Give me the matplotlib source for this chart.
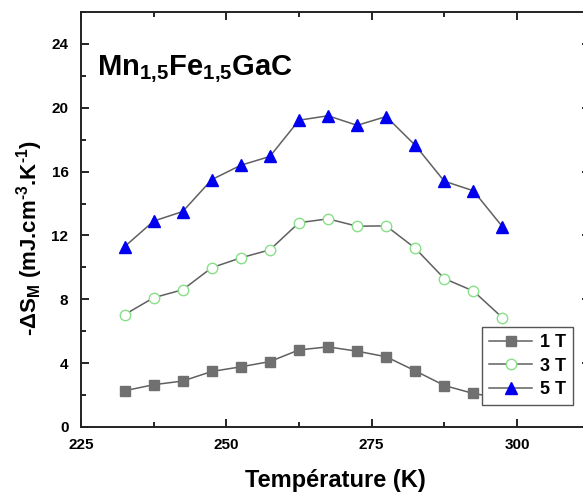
import matplotlib
matplotlib.use("Agg")
import matplotlib.pyplot as plt
from matplotlib.ticker import MultipleLocator

plt.rcParams['font.family'] = ['Liberation Sans', 'DejaVu Sans']
plt.rcParams['mathtext.fontset'] = 'custom'
plt.rcParams['mathtext.rm'] = 'Liberation Sans:bold'
plt.rcParams['mathtext.bf'] = 'Liberation Sans:bold'
plt.rcParams['mathtext.it'] = 'Liberation Sans:bold'

temperature = [232.5, 237.5, 242.5, 247.5, 252.5, 257.5, 262.5, 267.5,
               272.5, 277.5, 282.5, 287.5, 292.5, 297.5]
ds_1T = [2.27, 2.65, 2.88, 3.48, 3.77, 4.1, 4.83, 5.02, 4.75, 4.4, 3.52, 2.6, 2.1, 1.8]
ds_3T = [7.04, 8.1, 8.6, 9.98, 10.6, 11.1, 12.8, 13.04, 12.58, 12.6, 11.2, 9.3, 8.52, 6.85]
ds_5T = [11.3, 12.9, 13.5, 15.5, 16.4, 16.95, 19.22, 19.5, 18.9, 19.45, 17.65, 15.4, 14.8, 12.55]
labels = ['1 T', '3 T', '5 T']
x_ticks = [225, 250, 275, 300]
y_ticks = [0, 4, 8, 12, 16, 20, 24]

fig = plt.figure(figsize=(5.83, 4.92), dpi=100)
ax = fig.add_axes([81/583, 65/492, 508.6/583, 415/492])

line_col = '#606060'
ax.plot(temperature, ds_1T, '-', color=line_col, lw=1.1, marker='s', ms=6.5,
        mfc='#707070', mec='#707070', label=labels[0], zorder=3)
ax.plot(temperature, ds_3T, '-', color=line_col, lw=1.1, marker='o', ms=7.5,
        mfc='white', mec='#88e088', mew=1.0, label=labels[1], zorder=3)
ax.plot(temperature, ds_5T, '-', color=line_col, lw=1.1, marker='^', ms=8.5,
        mfc='#0000ee', mec='#0000ee', label=labels[2], zorder=3)

ax.set_xlim(225, 312.5)
ax.set_ylim(0, 26)
ax.set_xticks(x_ticks)
ax.set_yticks(y_ticks)
ax.xaxis.set_minor_locator(MultipleLocator(12.5))
ax.yaxis.set_minor_locator(MultipleLocator(2))
ax.tick_params(which='both', direction='in', top=True, right=True,
               labelsize=11, width=1.2)
ax.tick_params(axis='x', which='both', pad=8)
ax.tick_params(axis='y', which='both', pad=9)
ax.tick_params(which='major', length=6)
ax.tick_params(which='minor', length=3.5)
for lab in ax.get_xticklabels() + ax.get_yticklabels():
    lab.set_fontweight('bold')
for s in ax.spines.values():
    s.set_linewidth(1.4)
    s.set_color('#222222')

ax.set_xlabel('Température (K)', fontsize=17, fontweight='bold', labelpad=12)
ax.set_ylabel(r'-$\Delta$S$_{\mathrm{M}}$ (mJ.cm$^{\text{-3}}$.K$^{\text{-1}}$)',
              fontsize=16, fontweight='bold')
ax.yaxis.set_label_coords(-0.07, 0.455)

ax.text(0.031, 0.848, r'Mn$_{\mathrm{1{,}5}}$Fe$_{\mathrm{1{,}5}}$GaC',
        transform=ax.transAxes, fontsize=21, fontweight='bold', va='baseline',
        ha='left')

leg = ax.legend(loc='upper left', bbox_to_anchor=(0.788, 0.241), borderaxespad=0,
                fancybox=False, edgecolor='#555555', framealpha=1, handlelength=2.4,
                labelspacing=0.35, borderpad=0.4, handletextpad=0.4,
                prop={'weight': 'bold', 'size': 13})
leg.get_frame().set_linewidth(1.0)
leg.set_zorder(5)

fig.savefig('out.png', dpi=100)
